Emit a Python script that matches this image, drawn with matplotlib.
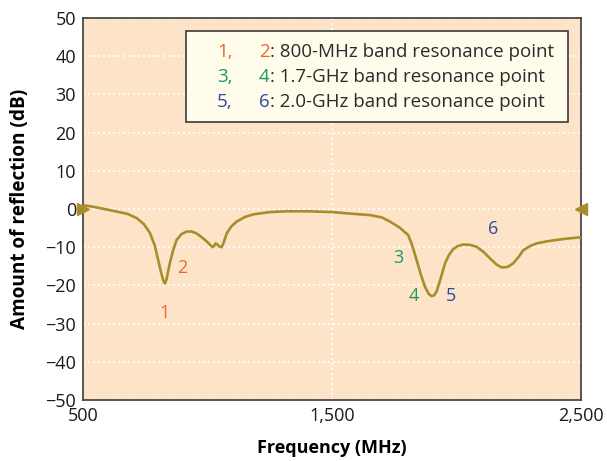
import matplotlib
matplotlib.use("Agg")
import matplotlib.pyplot as plt
from matplotlib.patches import Rectangle

# Data
freq_mhz = [500, 540, 608, 680, 716, 745, 769, 788, 802, 815, 823, 829, 835, 842, 849, 862, 876, 895, 916, 936,
            956, 977, 997, 1012, 1021, 1027, 1033, 1040, 1047, 1057, 1065, 1077, 1095, 1117, 1150, 1184, 1250,
            1318, 1400, 1500, 1572, 1653, 1700, 1733, 1770, 1806, 1822, 1840, 1857, 1873, 1888, 1900, 1910, 1920,
            1935, 1954, 1970, 1987, 2005, 2027, 2055, 2081, 2108, 2134, 2160, 2181, 2205, 2228, 2250, 2268, 2295,
            2322, 2360, 2402, 2450, 2500]
reflection_db = [1.0, 0.6, -0.3, -1.3, -2.4, -4.0, -6.3, -9.5, -13.4, -17.0, -18.8, -19.5, -18.5, -16.3, -14.1,
                 -10.8, -8.1, -6.6, -5.9, -5.9, -6.4, -7.4, -8.5, -9.5, -10.0, -9.6, -9.0, -9.3, -9.8, -10.0,
                 -8.8, -6.4, -4.6, -3.3, -2.1, -1.4, -0.8, -0.6, -0.6, -0.8, -1.2, -1.6, -2.2, -3.3, -4.8, -6.8,
                 -9.5, -13.4, -17.2, -20.3, -22.2, -22.8, -22.6, -21.6, -18.5, -14.2, -12.0, -10.5, -9.7, -9.3,
                 -9.4, -9.9, -11.2, -12.9, -14.5, -15.3, -15.2, -14.2, -12.5, -10.8, -9.7, -9.0, -8.5, -8.1, -7.7,
                 -7.4]

point_labels = ["1", "2", "3", "4", "5", "6"]
label_freq = [829, 898, 1765, 1829, 1978, 2147]
label_db = [-27.2, -15.4, -12.8, -22.8, -22.8, -5.2]

legend_first = ["1,", "3,", "5,"]
legend_second = ["2", "4", "6"]
legend_texts = [": 800-MHz band resonance point", ": 1.7-GHz band resonance point",
                ": 2.0-GHz band resonance point"]

orange = "#E8692D"
green = "#1B9A5B"
blue = "#2E4B9B"
label_colors = [orange, orange, green, green, blue, blue]
legend_colors = [orange, green, blue]
curve_color = "#A68E2B"

plt.rcParams["font.family"] = ["Open Sans", "DejaVu Sans"]

fig = plt.figure(figsize=(6.07, 4.61), dpi=100)
ax = fig.add_axes([83 / 607, 1 - 400 / 461, (581 - 83) / 607, (400 - 18) / 461])
ax.set_facecolor("#FDE4C9")

ax.plot(freq_mhz, reflection_db, color=curve_color, lw=1.9, zorder=3, solid_joinstyle="round")
ax.plot([500], [0], marker=">", color=curve_color, ms=9, clip_on=False, zorder=4)
ax.plot([2500], [0], marker="<", color=curve_color, ms=9, clip_on=False, zorder=4)

for t, f, d, c in zip(point_labels, label_freq, label_db, label_colors):
    ax.text(f, d, t, color=c, fontsize=13, ha="center", va="center", zorder=5)

ax.set_xlim(500, 2500)
ax.set_ylim(-50, 50)
ax.set_xticks([500, 1500, 2500])
ax.set_xticklabels(["500", "1,500", "2,500"])
ax.set_yticks(range(-50, 51, 10))
ax.set_yticklabels([str(v).replace("-", "\u2212") for v in range(-50, 51, 10)])
ax.tick_params(length=0, labelsize=13, colors="#1a1a1a", pad=5)
ax.grid(True, color="white", ls=(0, (1.2, 1.8)), lw=1.2)
ax.set_axisbelow(True)
for s in ax.spines.values():
    s.set_color("#3a3a3a")
    s.set_linewidth(1.2)

ax.set_xlabel("Frequency (MHz)", fontsize=13, fontweight="bold", labelpad=10)
ax.set_ylabel("Amount of reflection (dB)", fontsize=13.7, fontweight="bold", labelpad=11)

# Legend box
bx0, by0 = 186 / 607, 1 - 122 / 461
bw, bh = (568 - 186) / 607, (122 - 31) / 461
fig.patches.append(Rectangle((bx0, by0), bw, bh, transform=fig.transFigure,
                             facecolor="#FFFCEC", edgecolor="#3a3a3a", lw=1.2, zorder=5))
rows_y = [52, 77, 102]
for a, b, txt, c, y in zip(legend_first, legend_second, legend_texts, legend_colors, rows_y):
    fy = 1 - y / 461
    fig.text(217 / 607, fy, a, color=c, fontsize=13.5, va="center", ha="left", zorder=6)
    t2 = fig.text(259 / 607, fy, b, color=c, fontsize=13.5, va="center", ha="left", zorder=6)
    fig.canvas.draw()
    bb = t2.get_window_extent()
    fig.text(bb.x1 / fig.bbox.width, fy, txt, color="#2a2a2a", fontsize=13.5, va="center", ha="left", zorder=6)

fig.savefig("out.png", dpi=100)
